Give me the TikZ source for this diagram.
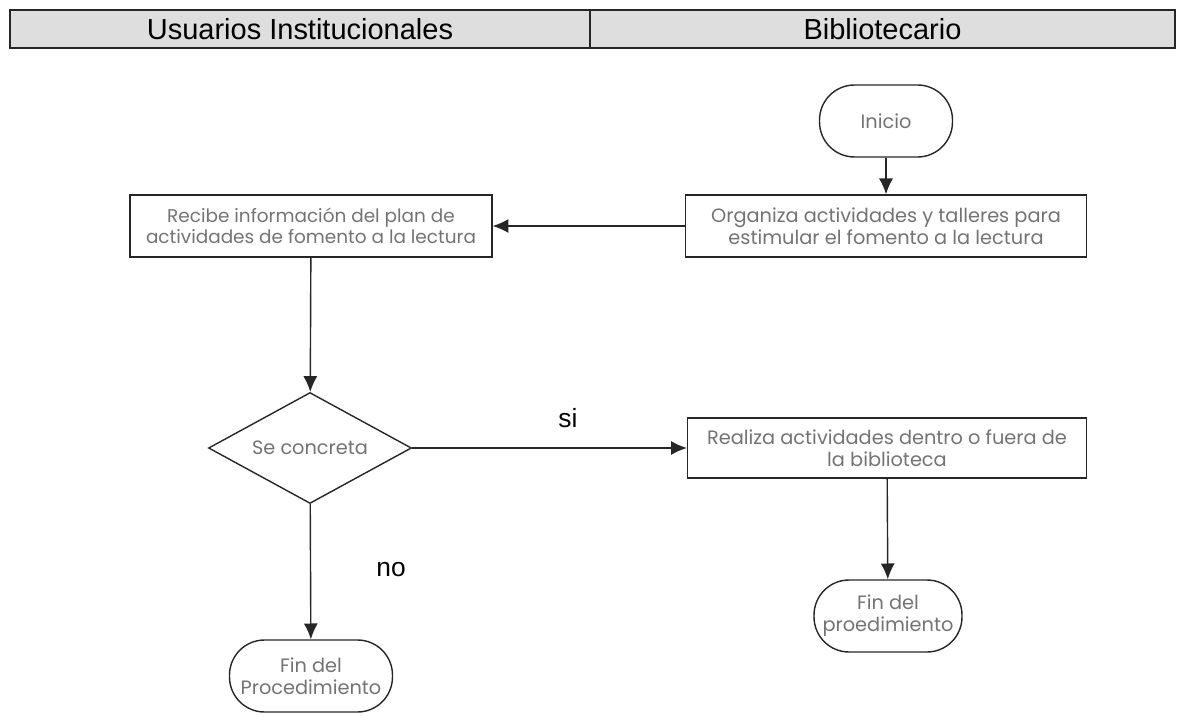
\documentclass[tikz,border=0pt]{standalone}
\usepackage{fontspec}
\setmainfont{Poppins}
\newfontfamily\arialfont{Liberation Sans}
\usetikzlibrary{shapes.geometric,arrows.meta}

\begin{document}
\begin{tikzpicture}[x=0.02cm,y=-0.02cm,
  carril/.style={draw=black!85,line width=1pt,fill=black!13,minimum height=0.76cm,font=\arialfont\fontsize{16.5}{18}\selectfont},
  caja/.style={draw=black!85,line width=0.8pt,align=center,minimum height=1.22cm,text=black!55,font=\fontsize{11}{12.5}\selectfont},
  terminal/.style={caja,rounded corners=0.7cm,minimum height=1.44cm,inner sep=1pt},
  decision/.style={caja,diamond,shape aspect=1.83,minimum width=4.06cm,minimum height=2.22cm,inner sep=0pt},
  etiqueta/.style={font=\arialfont\fontsize{15}{17}\selectfont},
  flecha/.style={draw=black!85,line width=0.8pt,-{Latex[length=9pt,width=8pt]}}]
  \path[use as bounding box] (0,0) rectangle (1186,716);

  \node[carril,minimum width=11.6cm] (usuarios) at (300,29) {Usuarios Institucionales};
  \node[carril,minimum width=11.7cm] (biblio) at (882.5,29) {Bibliotecario};

  \node[terminal,minimum width=2.66cm] (inicio) at (886,121) {Inicio};
  \node[caja,minimum width=8.02cm,minimum height=1.24cm] (organiza) at (886,226) {Organiza actividades y talleres para\\estimular el fomento a la lectura};
  \node[caja,minimum width=7.24cm,minimum height=1.24cm,font=\fontsize{10.5}{12}\selectfont] (recibe) at (311,226) {Recibe información del plan de\\actividades de fomento a la lectura};
  \node[decision] (concreta) at (310,448) {Se concreta};
  \node[caja,minimum width=7.98cm,minimum height=1.2cm] (realiza) at (887,448) {Realiza actividades dentro o fuera de\\la biblioteca};
  \node[terminal,minimum width=2.96cm] (finbib) at (888,616) {Fin del\\proedimiento};
  \node[terminal,minimum width=3.26cm] (finusu) at (311,676) {Fin del\\Procedimiento};

  \node[etiqueta] (si) at (568,418) {si};
  \node[etiqueta] (no) at (391,570) {no};

  \draw[flecha] (inicio) -- (organiza);
  \draw[flecha] (organiza) -- (recibe);
  \draw[flecha] (recibe) -- (concreta);
  \draw[flecha] (concreta) -- (realiza);
  \draw[flecha] (realiza) -- (finbib);
  \draw[flecha] (concreta) -- (finusu);
\end{tikzpicture}
\end{document}
